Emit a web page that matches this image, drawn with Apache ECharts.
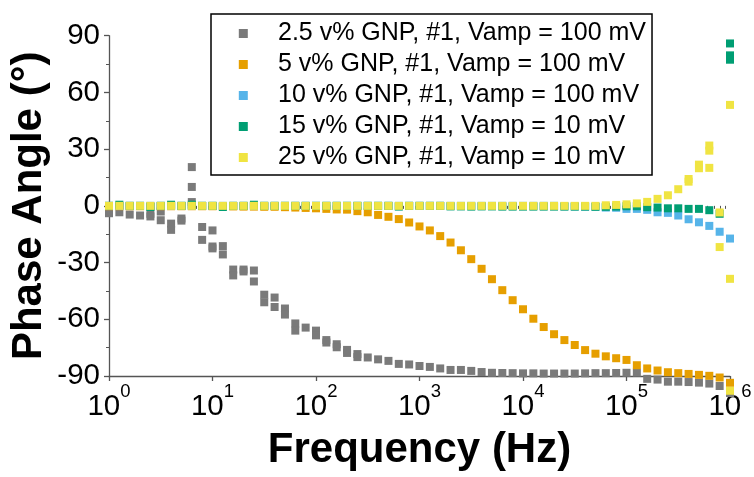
<!DOCTYPE html>
<html>
<head>
<meta charset="utf-8">
<script src="https://cdn.jsdelivr.net/npm/echarts@6/dist/echarts.min.js"></script>
<style>html,body{margin:0;padding:0;background:#fff}#c{width:754px;height:477px}</style>
</head>
<body>
<div id="c"></div>
<script>
// Frequencies (Hz), 10 points per decade
const freqs = [
  1, 1.259, 1.585, 1.995, 2.512, 3.162, 3.981, 5.012, 6.310, 7.943,
  10, 12.59, 15.85, 19.95, 25.12, 31.62, 39.81, 50.12, 63.10, 79.43,
  100, 125.9, 158.5, 199.5, 251.2, 316.2, 398.1, 501.2, 631.0, 794.3,
  1000, 1259, 1585, 1995, 2512, 3162, 3981, 5012, 6310, 7943,
  10000, 12589, 15849, 19953, 25119, 31623, 39811, 50119, 63096, 79433,
  100000, 125893, 158489, 199526, 251189, 316228, 398107, 501187, 630957, 794328,
  1000000
];
const seriesNames = [
  '2.5 v% GNP, #1, Vamp = 100 mV',
  '5 v% GNP, #1, Vamp = 100 mV',
  '10 v% GNP, #1, Vamp = 100 mV',
  '15 v% GNP, #1, Vamp = 10 mV',
  '25 v% GNP, #1, Vamp = 10 mV'
];
const seriesColors = ['#7a7a7a', '#e69f00', '#56b4e9', '#009e73', '#f0e442'];
// Phase angle (deg) per frequency; arrays = several readings at that frequency
const grey = [
  -3.9, -3.4, -4.6, -5.1, [-4.2, -5.6], [-3, -7.6], [-9.4, -12.7], [-6.7, -7.8], [20.5, 10, 2], [-11.2, -18],
  [-13, -21.5, -22.5], [-21.3, -25.7], [-33.7, -36.8], [-33.7, -34.7], [-34.2, -40], [-47, -51], [-48.5, -53.5], [-54.3, -57.5], [-62.2, -66], -64.4,
  [-66, -68.5], [-71, -72.3], [-73.2, -74.8], [-76.2, -77.8], [-78.4, -80], -80.2, -81.2, -82, -83.6, -83.9,
  -84.7, -85.2, -86, -86.8, -86.8, -87.3, -87.9, -88.3, -88.4, -88.5,
  -88.6, -88.6, -88.7, -88.7, -88.7, -88.7, -88.6, -88.5, -88.5, -88.4,
  -88.3, -88.2, -91.5, -91.9, -93, -93, -93.2, -93.5, -94, -95.3,
  -99
];
const orange = [
  -0.2, -0.2, -0.2, -0.2, -0.2, -0.2, -0.2, -0.2, -0.2, -0.2,
  -0.2, -0.3, -0.3, -0.4, -0.4, -0.5, -0.5, -0.7, -0.9, -1.1,
  -1.3, -1.6, -1.9, -2.0, -2.8, -3.4, -4.8, -5.8, -7, -8.8,
  -10.9, -13, -16, -19.4, -23.5, -28.2, -33.3, -38.8, -44.6, -49.9,
  -54.7, -59.7, -64.1, -67.9, -71, -73.6, -76.3, -78.2, -79.6, -80.6,
  -81.5, -84.3, -86, -87.1, -88, -88.5, -88.9, -89.4, -89.9, -90.8,
  -93.6
];
const blue = [
  0, 0, 0, 0, 0, 0, 0, 0, 0, 0,
  0, 0, 0, 0, 0, 0, 0, 0, 0, 0,
  0, 0, 0, 0, 0, 0, 0, 0, 0, 0,
  0, 0, 0, 0, 0, 0, 0, 0, 0, 0,
  0, 0, 0, 0, -0.2, -0.3, -0.4, -0.4, -0.9, -1.0,
  -1.6, -1.6, -2.1, -3.4, -3.7, -5.1, -7.1, -8.7, -10.6, -13.7,
  -17.3
];
const green = [
  0, 0.6, 0, 0, -0.6, 0, 0.6, 0, 0.6, 0,
  0, -0.6, 0, 0, 0.6, 0, 0, 0, 0, 0,
  0, 0, 0, 0, 0, 0, 0, 0, -0.4, 0,
  0, 0, 0, -0.3, -0.3, -0.4, -0.3, -0.3, -0.4, -0.4,
  -0.4, -0.4, -0.4, -0.4, -0.4, -0.4, -0.4, -0.5, -0.5, -0.4,
  -0.2, -0.2, -0.7, -0.9, -1.3, -1.3, -1.6, -1.6, -2.3, -4.2,
  [85.9, 79.6, 77.3]
];
const yellow = [
  0, 0, 0, 0, 0, 0, 0, 0, 0, 0,
  0, 0, 0, 0, 0, 0, 0, 0, 0, 0,
  0, 0, 0, 0, 0, 0, 0, 0, 0, 0,
  0, 0, 0, 0, 0, 0, 0, 0, 0, 0,
  0, 0, 0, 0, 0, 0, 0, 0, 0.3, 0.5,
  0.8, 1.3, 2.1, 3.7, 5.6, 8.8, [12.8, 14.2], [19.9, 21.8], [29.2, 31.9, 20.1], [-3.5, -21.8],
  [53.4, -38.6, -97.8]
];
const xMajorTicks = [1, 10, 100, 1000, 10000, 100000, 1000000];
const yTicks = [-90, -60, -30, 0, 30, 60, 90];

const xMinorTicks = [];
for (let d = 0; d < 6; d++) for (let m = 2; m <= 9; m++) xMinorTicks.push(m * Math.pow(10, d));

function build(vals) {
  const out = [];
  vals.forEach((v, i) => {
    (Array.isArray(v) ? v : [v]).forEach(y => out.push([freqs[i], y]));
  });
  return out;
}

const FONT = '"Liberation Sans", Arial, sans-serif';
const AX = '#555';
const allVals = [grey, orange, blue, green, yellow];

const chart = echarts.init(document.getElementById('c'), null, {renderer: 'canvas'});
chart.setOption({
  animation: false,
  backgroundColor: '#fff',
  textStyle: {fontFamily: FONT},
  grid: {left: 109, right: 24, top: 35.7, bottom: 101, outerBoundsMode: 'none'},
  legend: {
    orient: 'vertical',
    left: 211, top: 14,
    icon: 'rect',
    itemWidth: 9, itemHeight: 9, itemGap: 6,
    padding: [7, 6, 5, 27.8],
    borderColor: '#000', borderWidth: 1.5, borderRadius: 0,
    backgroundColor: '#fff',
    selectedMode: false,
    formatter: name => '{s| }' + name,
    textStyle: {
      fontSize: 25, color: '#000', fontFamily: FONT, lineHeight: 25,
      rich: {s: {width: 25.2, fontSize: 25, lineHeight: 25}}
    },
    data: seriesNames
  },
  xAxis: [{
    type: 'log', logBase: 10, min: 1, max: 1000000,
    position: 'bottom',
    axisLine: {show: true, onZero: false, lineStyle: {color: AX, width: 1.3}},
    axisTick: {show: true, inside: false, length: 5, customValues: xMajorTicks, lineStyle: {color: AX, width: 1.3}},
    minorTick: {show: false},
    splitLine: {show: false},
    axisLabel: {
      customValues: xMajorTicks,
      margin: 6,
      showMinLabel: true, showMaxLabel: true,
      formatter: v => '{b|10}{e|' + Math.round(Math.log10(v)) + '}',
      rich: {
        b: {fontSize: 29.5, color: '#000', fontFamily: FONT, lineHeight: 40, verticalAlign: 'bottom'},
        e: {fontSize: 18.5, color: '#000', fontFamily: FONT, lineHeight: 22, verticalAlign: 'top'}
      }
    },
    name: 'Frequency (Hz)', nameLocation: 'middle', nameGap: 53, nameMoveOverlap: false,
    nameTextStyle: {fontSize: 42, fontWeight: 'bold', color: '#000', fontFamily: FONT}
  }, {
    type: 'log', logBase: 10, min: 1, max: 1000000,
    position: 'bottom',
    axisLine: {show: false},
    axisTick: {show: true, inside: false, length: 3, customValues: xMinorTicks, lineStyle: {color: AX, width: 1}},
    axisLabel: {show: false},
    splitLine: {show: false}
  }],
  yAxis: {
    type: 'value', min: -90, max: 90, interval: 30,
    axisLine: {show: true, onZero: false, lineStyle: {color: AX, width: 1.3}},
    axisTick: {show: true, inside: false, length: 5, lineStyle: {color: AX, width: 1.3}},
    minorTick: {show: true, splitNumber: 2, length: 3, lineStyle: {color: AX, width: 1}},
    splitLine: {show: false},
    axisLabel: {fontSize: 29.5, color: '#000', fontFamily: FONT, margin: 9, customValues: yTicks},
    name: 'Phase Angle (°)', nameLocation: 'middle', nameGap: 59, nameRotate: 90, nameMoveOverlap: false,
    nameTextStyle: {fontSize: 42, fontWeight: 'bold', color: '#000', fontFamily: FONT}
  },
  series: seriesNames.map((n, i) => ({
    type: 'scatter',
    name: n,
    xAxisIndex: 0,
    data: build(allVals[i]),
    symbol: 'rect',
    symbolSize: 8,
    clip: false,
    itemStyle: {color: seriesColors[i], opacity: 1},
    emphasis: {disabled: true},
    z: 2 + i
  }))
});
</script>
</body>
</html>
